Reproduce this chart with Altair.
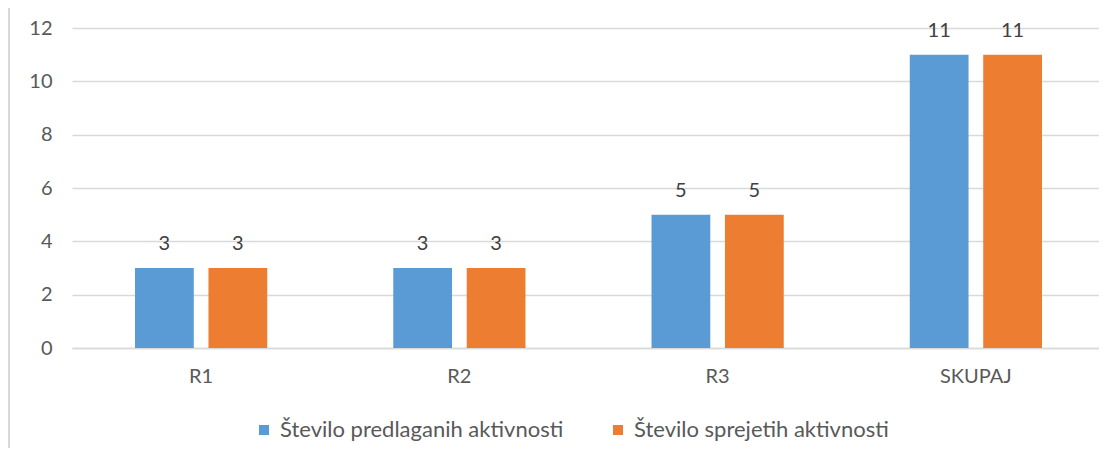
import altair as alt
import pandas as pd

categories = ["R1", "R2", "R3", "SKUPAJ"]
series_names = ["Število predlaganih aktivnosti", "Število sprejetih aktivnosti"]
predlagane = [3, 3, 5, 11]
sprejete = [3, 3, 5, 11]
colors = ["#5B9BD5", "#ED7D31"]
y_ticks = [0, 2, 4, 6, 8, 10, 12]

rows = []
for c, a, b in zip(categories, predlagane, sprejete):
    rows.append({"cat": c, "series": series_names[0], "value": a})
    rows.append({"cat": c, "series": series_names[1], "value": b})
df = pd.DataFrame(rows)

FONT = "Lato"
FS = 20

x_enc = alt.X("cat:N", sort=categories, title=None,
              scale=alt.Scale(paddingInner=0.488, paddingOuter=0.244, range=[0, 1033]),
              axis=alt.Axis(labelAngle=0, ticks=False, domain=True, domainColor="#D9D9D9",
                            domainWidth=1.5, labelPadding=18, labelFont=FONT,
                            labelFontSize=FS, labelColor="#595959", grid=False))
xo_enc = alt.XOffset("series:N", sort=series_names,
                     scale=alt.Scale(paddingInner=0.2, paddingOuter=0))
y_enc = alt.Y("value:Q", title=None,
              scale=alt.Scale(domain=[0, 12], nice=False),
              axis=alt.Axis(values=y_ticks, ticks=False, domain=False, grid=True,
                            gridColor="#D9D9D9", gridWidth=1.5, labelPadding=20,
                            labelFont=FONT, labelFontSize=FS, labelColor="#595959"))

bars = alt.Chart(df).mark_bar().encode(
    x=x_enc, xOffset=xo_enc, y=y_enc,
    color=alt.Color("series:N", sort=series_names,
                    scale=alt.Scale(domain=series_names, range=colors),
                    legend=alt.Legend(title=None, orient="none", direction="horizontal",
                                      legendX=181, legendY=391, symbolType="square",
                                      symbolSize=100, symbolStrokeWidth=0,
                                      labelFont=FONT, labelFontSize=22,
                                      labelColor="#595959", labelOffset=5,
                                      columnPadding=43, labelLimit=400)),
)

labels = alt.Chart(df).mark_text(font=FONT, fontSize=FS, color="#404040",
                                 baseline="alphabetic", dy=-18).encode(
    x=alt.X("cat:N", sort=categories), xOffset=alt.XOffset("series:N", sort=series_names),
    y="value:Q", text="value:Q",
)

border = alt.Chart(pd.DataFrame({"a": [0]})).mark_rule(color="#D9D9D9", strokeWidth=2).encode(
    x=alt.value(-63), y=alt.value(-20), y2=alt.value(430)
)

chart = alt.layer(bars, labels, border).properties(
    width=1027, height=320,
    autosize=alt.AutoSizeParams(type="none"),
    padding={"left": 64, "right": 0, "top": 20, "bottom": 100},
).configure_view(stroke=None)

chart.save("out.html", embed_options={"renderer": "svg", "actions": False})
